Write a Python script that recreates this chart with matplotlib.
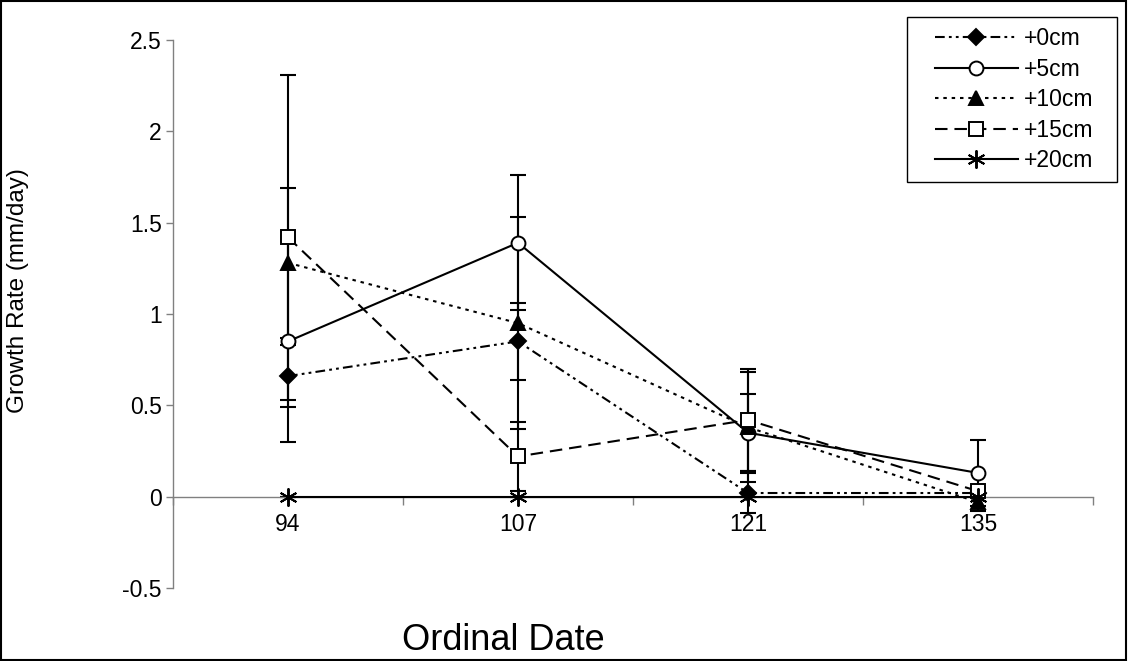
import numpy as np
import matplotlib.pyplot as plt
from matplotlib.patches import Rectangle

plt.rcParams['font.family'] = ['Liberation Sans', 'DejaVu Sans']
plt.rcParams['lines.scale_dashes'] = False

# ---------------------------------------------------------------- data
dates = ['94', '107', '121', '135']
labels = ['+0cm', '+5cm', '+10cm', '+15cm', '+20cm']

rate0 = [0.66, 0.85, 0.02, 0.02]
rate5 = [0.85, 1.39, 0.35, 0.13]
rate10 = [1.28, 0.95, 0.38, -0.03]
rate15 = [1.42, 0.22, 0.42, 0.03]
rate20 = [0.0, 0.0, 0.0, 0.0]

err0 = [0.17, 0.21, 0.11, 0.01]
err5 = [0.55, 0.37, 0.21, 0.18]
err10 = [0.41, 0.58, 0.30, 0.05]
err15 = [0.89, 0.19, 0.28, 0.02]
err20 = [0.0, 0.0, 0.0, 0.0]

rates = [rate0, rate5, rate10, rate15, rate20]
errs = [err0, err5, err10, err15, err20]

# ---------------------------------------------------------------- styles
styles = [
    dict(ls=(0, (7, 3, 2, 3, 2, 3)), marker='D', mfc='black', ms=8),
    dict(ls='-', marker='o', mfc='white', ms=10),
    dict(ls=(0, (2.5, 3.5)), marker='^', mfc='black', ms=10),
    dict(ls=(0, (9, 5)), marker='s', mfc='white', ms=10),
    dict(ls='-', marker=(6, 2, 0), mfc='black', ms=13),
]

W, H = 1128, 661
fig = plt.figure(figsize=(W / 100, H / 100), dpi=100)
ax = fig.add_axes([173 / W, 73 / H, 920 / W, 548 / H])

x = np.arange(1, len(dates) + 1)

for i in range(len(labels)):
    ax.errorbar(x, rates[i], yerr=errs[i], fmt='none', ecolor='black',
                elinewidth=1.5, capsize=5.5, capthick=1.5, zorder=2)
for i in range(len(labels)):
    st = styles[i]
    ax.plot(x, rates[i], color='black', lw=1.5, linestyle=st['ls'],
            marker=st['marker'], markerfacecolor=st['mfc'],
            markeredgecolor='black', markeredgewidth=1.4,
            markersize=st['ms'], label=labels[i], zorder=3)

ax.set_xlim(0.5, len(dates) + 0.5)
ax.set_ylim(-0.5, 2.5)
ax.set_yticks([-0.5, 0, 0.5, 1, 1.5, 2, 2.5])
ax.set_yticklabels(['-0.5', '0', '0.5', '1', '1.5', '2', '2.5'])

# category axis crossing at zero, ticks between categories
ax.spines['bottom'].set_position(('data', 0))
ax.spines['top'].set_visible(False)
ax.spines['right'].set_visible(False)
for s in ['left', 'bottom']:
    ax.spines[s].set_color('#808080')
    ax.spines[s].set_linewidth(1)
ax.set_xticks(np.arange(0.5, len(dates) + 1, 1.0))
ax.set_xticklabels([])
ax.set_xticks(x, minor=True)
ax.set_xticklabels(dates, minor=True)
ax.tick_params(axis='x', which='major', direction='out', length=6,
               color='#808080', width=1)
ax.tick_params(axis='x', which='minor', length=0, pad=12, labelsize=16.5)
ax.tick_params(axis='y', direction='out', length=5, color='#808080',
               width=1, labelsize=16.5, pad=3)

ax.set_ylabel('Growth Rate (mm/day)', fontsize=17.5)
ax.yaxis.set_label_coords(-0.157, 0.542)
fig.text(503 / W, 1 - 640 / H, 'Ordinal Date', fontsize=26,
         ha='center', va='center')

leg = ax.legend(loc='upper left', bbox_to_anchor=(935 / W, 1 - 27 / H),
                bbox_transform=fig.transFigure, fontsize=16.5, frameon=False,
                handlelength=3.6, labelspacing=0.33, borderpad=0,
                handletextpad=0.26, borderaxespad=0)
fig.patches.append(Rectangle((907 / W, 1 - 182 / H), 210 / W, 165 / H,
                             transform=fig.transFigure, fill=False,
                             edgecolor='black', lw=1))

fig.patches.append(Rectangle((0.001, 0.001), 0.997, 0.997,
                             transform=fig.transFigure, fill=False,
                             edgecolor='black', lw=1.5))

fig.savefig('out.png', dpi=100)
